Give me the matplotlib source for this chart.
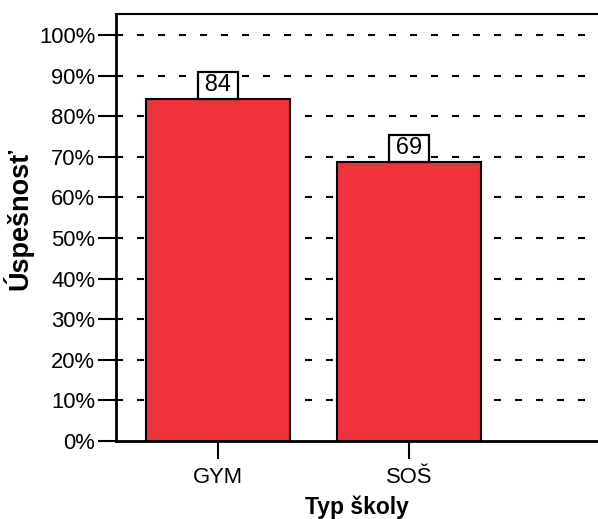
import matplotlib.pyplot as plt

plt.rcParams['font.family'] = ['Liberation Sans', 'DejaVu Sans']

# success rate by school type (%)
skoly = ['GYM', 'SOŠ']
uspesnost = [84.2, 68.7]

fig = plt.figure(figsize=(5.98, 5.19), dpi=100)
ax = fig.add_axes([116 / 598, 78 / 519, 1 - 116 / 598, (441 - 14) / 519])

x = range(len(skoly))
bars = ax.bar(x, uspesnost, width=0.75, color='#f0323c', edgecolor='black',
              linewidth=1.5, zorder=3)

# value boxes sitting on the bars
for b, v in zip(bars, uspesnost):
    ax.annotate(f'\u2009{v:.0f}\u2009', (b.get_x() + b.get_width() / 2, v),
                xytext=(0, 2), textcoords='offset points', ha='center', va='bottom',
                fontsize=17, zorder=4,
                bbox=dict(boxstyle='square,pad=0.1', fc='white', ec='black', lw=1.6))

ax.set_xlim(-0.534, 1.99)
ax.set_ylim(0, 105.2)
ax.set_yticks(range(0, 101, 10))
ax.set_yticklabels([f'{t}%' for t in range(0, 101, 10)], fontsize=15.8)
ax.set_xticks(list(x))
ax.set_xticklabels(skoly, fontsize=15.8)

ax.set_axisbelow(True)
for t in range(10, 101, 10):
    ax.axhline(t, color='black', lw=1.5, linestyle=(0, (3.36, 6.72)), zorder=1)

ax.tick_params(axis='both', length=13, width=1.5, color='black', pad=2)
ax.tick_params(axis='x', pad=6)
ax.spines['right'].set_visible(False)
ax.spines['left'].set_linewidth(2)
ax.spines['bottom'].set_linewidth(2)
ax.spines['top'].set_linewidth(1.5)

ax.set_xlabel('Typ školy', fontsize=16.5, fontweight='bold')
ax.set_ylabel('Úspešnosť', fontsize=19.5, fontweight='bold')
ax.xaxis.set_label_coords(0.5, -0.128)
ax.yaxis.set_label_coords(-0.172, 0.52)

fig.savefig('out.png', dpi=100)
